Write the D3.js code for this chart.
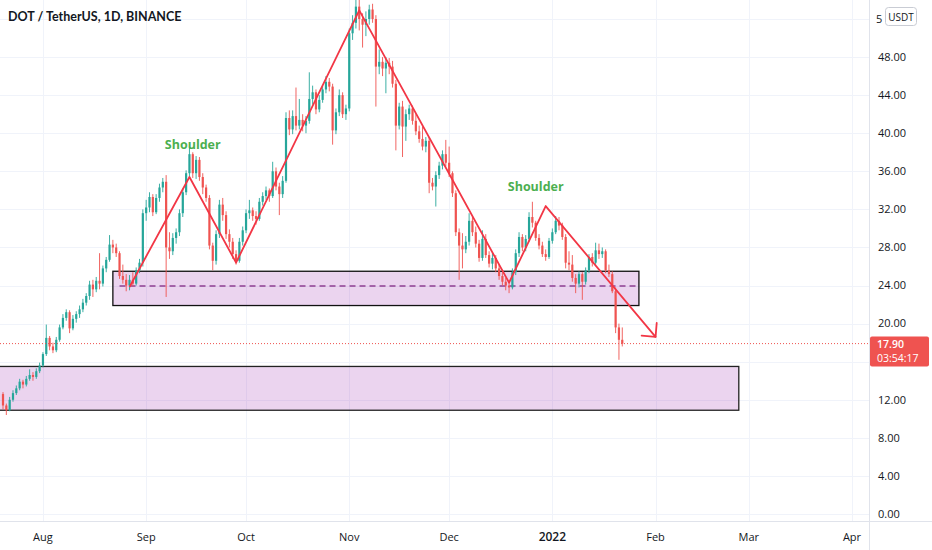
<!DOCTYPE html>
<html>
<head>
<meta charset="utf-8">
<script src="https://cdn.jsdelivr.net/npm/d3@7"></script>
<style>
  html, body { margin: 0; padding: 0; background: #fff; }
  #chart { width: 932px; height: 550px; }
  text { font-family: "Open Sans", "Noto Sans", sans-serif; }
</style>
</head>
<body>
<div id="chart"></div>
<script>
// DOT / USDT daily candles, first bar 2021-07-20
const firstDay = "2021-07-20";

const opens = [12.6,11.4,10.9,12.0,12.7,13.2,13.9,13.6,14.2,14.6,14.4,15.0,15.6,16.8,18.5,17.6,17.2,18.3,19.6,20.6,
  21.2,19.5,20.5,21.0,21.5,22.2,22.9,24.1,23.6,24.5,24.2,25.8,26.7,28.3,28.0,27.4,25.0,24.6,24.0,24.6,
  24.2,25.6,26.4,31.6,32.2,33.3,31.7,33.2,34.3,34.9,28.0,27.6,29.0,29.6,31.6,33.8,35.8,37.8,35.8,37.2,
  35.4,34.3,33.2,28.2,26.6,29.4,32.5,31.4,29.4,28.6,27.3,26.6,28.6,29.8,31.6,31.9,31.3,31.0,32.8,33.4,
  34.0,33.4,36.0,34.4,33.6,35.0,41.6,40.4,41.8,40.8,41.4,40.8,41.3,43.6,44.3,42.5,43.5,44.6,45.4,44.9,
  40.3,42.2,44.0,42.0,42.6,50.5,51.6,53.3,52.0,51.4,52.0,53.0,52.0,47.0,47.5,46.8,47.4,47.0,45.2,40.8,
  42.8,40.7,42.0,42.6,41.3,40.2,39.4,38.6,39.2,34.8,34.4,35.6,36.6,37.8,36.9,35.8,33.7,29.6,28.2,27.8,
  28.6,30.8,29.6,28.4,26.9,28.9,27.2,26.3,26.9,25.8,25.0,24.4,24.0,23.8,25.4,27.4,29.1,28.0,28.9,31.2,
  30.6,29.0,28.2,27.3,27.0,28.7,29.6,30.8,30.3,29.1,26.4,26.2,24.8,24.2,25.2,24.4,25.6,27.0,26.4,27.7,
  27.3,27.6,25.6,25.2,23.4,19.6,18.3];
const highs = [12.8,11.6,12.3,13.0,13.5,14.2,14.1,14.5,15.2,14.9,15.3,15.9,17.0,19.9,18.7,18.0,18.6,19.9,21.0,21.5,
  21.4,20.9,21.3,21.9,22.6,23.2,24.5,24.6,24.9,27.4,26.1,27.0,29.3,28.8,28.4,27.6,26.2,25.2,25.1,25.4,
  25.9,26.8,32.0,33.0,33.8,33.6,33.6,34.7,35.3,35.6,29.6,29.5,30.0,32.0,34.2,36.1,38.6,38.0,37.6,37.5,
  35.8,34.6,33.5,28.5,29.8,33.0,33.2,31.8,29.9,29.0,27.7,29.0,30.2,32.0,33.0,32.2,31.8,33.2,33.8,34.4,
  34.2,37.0,36.4,34.8,35.5,42.2,42.4,42.4,44.8,43.6,42.0,41.8,46.4,45.0,44.6,44.0,45.0,46.0,45.8,45.2,
  42.6,44.6,44.3,43.0,51.0,52.4,54.0,54.2,52.6,52.8,53.5,53.6,52.4,48.8,48.0,48.0,47.9,47.6,45.6,43.2,
  43.4,42.5,43.0,42.9,42.0,40.8,40.7,39.6,39.6,35.3,36.0,37.0,38.2,39.3,38.6,36.0,34.0,30.0,29.5,29.2,
  31.6,31.2,30.2,28.8,29.8,29.4,27.6,27.4,27.2,26.2,25.4,24.8,24.5,25.8,27.8,29.6,29.4,29.3,31.7,32.8,
  30.8,29.4,28.6,27.8,29.0,30.0,31.3,31.2,30.6,29.4,27.6,27.2,25.2,25.5,25.4,25.9,27.3,27.4,28.5,28.4,
  28.0,27.8,26.2,25.5,23.8,20.0,19.6];
const lows = [11.0,10.4,10.8,11.8,12.5,13.0,13.2,13.4,14.0,14.0,14.2,14.8,15.4,16.6,17.2,16.9,17.0,18.1,19.4,20.3,
  19.0,19.3,20.1,20.6,21.2,21.9,22.5,22.8,23.3,23.6,23.9,25.4,26.5,27.4,27.0,24.7,24.2,23.4,23.5,23.9,
  24.0,25.3,26.0,30.8,31.7,31.3,31.5,32.8,33.8,22.8,26.8,27.2,28.4,29.2,31.2,33.5,35.4,35.3,35.2,35.0,
  33.6,32.8,27.8,25.6,26.2,29.0,30.8,28.9,28.0,26.8,26.2,26.4,28.2,29.5,31.0,30.8,30.4,30.8,32.4,33.0,
  32.8,33.2,34.0,31.4,33.2,34.8,39.8,39.9,40.3,40.4,40.2,40.0,41.0,43.0,42.0,42.2,43.2,44.2,44.4,38.8,
  39.9,41.8,41.6,41.4,42.3,49.8,51.0,50.8,49.0,50.2,51.4,51.6,42.8,46.2,46.0,44.2,46.2,44.8,38.2,40.4,
  37.5,39.2,41.4,40.9,39.8,39.0,38.2,38.0,33.7,34.0,32.3,35.2,36.2,36.5,35.4,33.3,29.2,24.6,25.8,27.4,
  28.2,29.2,28.0,26.5,26.6,26.9,25.9,25.7,25.4,24.6,24.0,23.5,23.2,23.6,25.1,27.0,27.6,27.6,28.6,30.1,
  28.7,27.8,27.0,26.6,26.8,28.4,29.4,29.8,28.8,25.8,25.6,24.4,23.2,23.8,22.5,24.1,25.3,26.0,26.2,26.8,
  26.9,25.3,24.9,23.2,19.0,16.2,17.6];
const closes = [11.4,10.9,12.0,12.7,13.2,13.9,13.6,14.2,14.6,14.4,15.0,15.6,16.8,18.5,17.6,17.2,18.3,19.6,20.6,21.2,
  19.5,20.5,21.0,21.5,22.2,22.9,24.1,23.6,24.5,24.2,25.8,26.7,28.3,28.0,27.4,25.0,24.6,24.0,24.6,24.2,
  25.6,26.4,31.6,32.2,33.3,31.7,33.2,34.3,34.9,28.0,27.6,29.0,29.6,31.6,33.8,35.8,37.8,35.8,37.2,35.4,
  34.3,33.2,28.2,26.6,29.4,32.5,31.4,29.4,28.6,27.3,26.6,28.6,29.8,31.6,31.9,31.3,31.0,32.8,33.4,34.0,
  33.4,36.0,34.4,33.6,35.0,41.6,40.4,41.8,40.8,41.4,40.8,41.3,43.6,44.3,42.5,43.5,44.6,45.4,44.9,40.3,
  42.2,44.0,42.0,42.6,50.5,51.6,53.3,52.0,51.4,52.0,53.0,52.0,47.0,47.5,46.8,47.4,47.0,45.2,40.8,42.8,
  40.7,42.0,42.6,41.3,40.2,39.4,38.6,39.2,34.8,34.4,35.6,36.6,37.8,36.9,35.8,33.7,29.6,28.2,27.8,28.6,
  30.8,29.6,28.4,26.9,28.9,27.2,26.3,26.9,25.8,25.0,24.4,24.0,23.8,25.4,27.4,29.1,28.0,28.9,31.2,30.6,
  29.0,28.2,27.3,27.0,28.7,29.6,30.8,30.3,29.1,26.4,26.2,24.8,24.2,25.2,24.4,25.6,27.0,26.4,27.7,27.3,
  27.6,25.6,25.2,23.4,19.6,18.3,17.9];

const gridTicks = [0, 4, 8, 12, 16, 20, 24, 28, 32, 36, 40, 44, 48, 52];
// labels visible on the price scale (16 hides under the price tag, 52 under the badge)
const priceLabels = [0, 4, 8, 12, 20, 24, 28, 32, 36, 40, 44, 48];
const lastPrice = 17.90;
const countdown = "03:54:17";

// head & shoulders drawing (date, price)
const patternPoints = [
  ["2021-08-27", 23.85], ["2021-09-14", 35.4], ["2021-09-28", 26.4],
  ["2021-11-04", 52.9], ["2021-12-19", 24.3], ["2021-12-30", 32.35], ["2022-02-01", 18.6]
];
const shoulderLabels = [["2021-09-15", 38.3, "Shoulder"], ["2021-12-27", 33.9, "Shoulder"]];
const supportZone = {from: "2021-08-22", to: "2022-01-27", low: 21.9, high: 25.5, mid: 23.95, dashFrom: "2021-08-24", dashTo: "2022-01-26"};
const demandZone = {from: "2021-07-01", to: "2022-02-26", low: 10.9, high: 15.5};

const W = 932, H = 550, plotRight = 869.5, plotBottom = 521.5;
const parse = d3.timeParse("%Y-%m-%d");

const bars = closes.map((c, i) => ({
  date: d3.timeDay.offset(parse(firstDay), i),
  o: opens[i], h: highs[i], l: lows[i], c: c
}));

const svg = d3.select("#chart").append("svg")
  .attr("width", W).attr("height", H)
  .attr("viewBox", `0 0 ${W} ${H}`);

const x = d3.scaleTime()
  .domain([parse(firstDay), parse("2022-04-01")])
  .range([3, 852]);
const y = d3.scaleLinear().domain([0, 52]).range([514, 19]);

const months = d3.timeMonth.range(parse("2021-08-01"), parse("2022-04-02"));

const plot = svg.append("g");
plot.append("clipPath").attr("id", "clip")
  .append("rect").attr("x", 0).attr("y", 0).attr("width", plotRight).attr("height", plotBottom);
const inner = plot.append("g").attr("clip-path", "url(#clip)");

// grid
inner.selectAll(".hgrid").data(gridTicks).enter().append("line")
  .attr("x1", 0).attr("x2", plotRight)
  .attr("y1", d => Math.round(y(d)) + 0.5).attr("y2", d => Math.round(y(d)) + 0.5)
  .attr("stroke", "#f0f3fa");
inner.selectAll(".vgrid").data(months).enter().append("line")
  .attr("y1", 0).attr("y2", plotBottom)
  .attr("x1", d => Math.round(x(d)) + 0.5).attr("x2", d => Math.round(x(d)) + 0.5)
  .attr("stroke", "#f0f3fa");

// zones
const zoneFill = "rgba(156, 39, 176, 0.2)";
inner.append("rect")
  .attr("x", x(parse(demandZone.from))).attr("y", y(demandZone.high))
  .attr("width", x(parse(demandZone.to)) - x(parse(demandZone.from)))
  .attr("height", y(demandZone.low) - y(demandZone.high))
  .attr("fill", zoneFill).attr("stroke", "#222").attr("stroke-width", 1.3);
inner.append("rect")
  .attr("x", x(parse(supportZone.from))).attr("y", y(supportZone.high))
  .attr("width", x(parse(supportZone.to)) - x(parse(supportZone.from)))
  .attr("height", y(supportZone.low) - y(supportZone.high))
  .attr("fill", zoneFill).attr("stroke", "#111").attr("stroke-width", 1.3);
inner.append("line")
  .attr("x1", x(parse(supportZone.dashFrom))).attr("x2", x(parse(supportZone.dashTo)))
  .attr("y1", y(supportZone.mid)).attr("y2", y(supportZone.mid))
  .attr("stroke", "#8e3f92").attr("stroke-width", 1.3).attr("stroke-dasharray", "6,4");

// candles
const up = "#26a69a", down = "#ef5350";
const candle = inner.selectAll(".bar").data(bars).enter().append("g").attr("class", "bar");
candle.append("line")
  .attr("x1", d => x(d.date)).attr("x2", d => x(d.date))
  .attr("y1", d => y(d.h)).attr("y2", d => y(d.l))
  .attr("stroke", d => d.c >= d.o ? up : down).attr("stroke-width", 0.9);
candle.append("rect")
  .attr("x", d => x(d.date) - 1.1)
  .attr("width", 2.2)
  .attr("y", d => y(Math.max(d.o, d.c)))
  .attr("height", d => Math.max(0.8, Math.abs(y(d.o) - y(d.c))))
  .attr("fill", d => d.c >= d.o ? up : down);

// last price line
inner.append("line")
  .attr("x1", 0).attr("x2", plotRight)
  .attr("y1", y(lastPrice)).attr("y2", y(lastPrice))
  .attr("stroke", down).attr("stroke-width", 1).attr("stroke-dasharray", "1,2");

// pattern lines
const red = "#f23645";
const pts = patternPoints.map(p => [x(parse(p[0])), y(p[1])]);
inner.append("path")
  .attr("d", d3.line()(pts))
  .attr("fill", "none").attr("stroke", red).attr("stroke-width", 1.8)
  .attr("stroke-linejoin", "round");
// arrow head at the last point
const tip = pts[pts.length - 1], prev = pts[pts.length - 2];
const ang = Math.atan2(tip[1] - prev[1], tip[0] - prev[0]);
const headLen = 14;
[Math.PI - 0.78, Math.PI + 0.78].forEach(a => {
  inner.append("line")
    .attr("x1", tip[0]).attr("y1", tip[1])
    .attr("x2", tip[0] + headLen * Math.cos(ang + a))
    .attr("y2", tip[1] + headLen * Math.sin(ang + a))
    .attr("stroke", red).attr("stroke-width", 1.8).attr("stroke-linecap", "round");
});

inner.selectAll(".shoulder").data(shoulderLabels).enter().append("text")
  .attr("x", d => x(parse(d[0]))).attr("y", d => y(d[1]))
  .attr("text-anchor", "middle")
  .attr("font-size", 12.5).attr("font-weight", "bold")
  .attr("fill", "#4caf50")
  .text(d => d[2]);

// title
svg.append("text")
  .attr("x", 8).attr("y", 21)
  .style("font-family", "Lato, 'Open Sans', sans-serif")
  .attr("font-size", 12.5).attr("font-weight", "bold").attr("fill", "#131722")
  .text("DOT / TetherUS, 1D, BINANCE");

// axes borders
svg.append("line").attr("x1", plotRight).attr("x2", plotRight).attr("y1", 0).attr("y2", H)
  .attr("stroke", "#e0e3eb");
svg.append("line").attr("x1", 0).attr("x2", W).attr("y1", plotBottom).attr("y2", plotBottom)
  .attr("stroke", "#e0e3eb");

// price axis
const yAxis = svg.append("g").attr("class", "axis axis-y");
yAxis.selectAll("text").data(priceLabels).enter().append("text")
  .attr("x", 878).attr("y", d => y(d))
  .attr("dy", "0.35em")
  .attr("font-size", 11).attr("fill", "#131722")
  .text(d => d3.format(".2f")(d));
// first digit of the top label peeking out from behind the badge
yAxis.append("text")
  .attr("x", 876).attr("y", y(52)).attr("dy", "0.35em")
  .attr("font-size", 11).attr("fill", "#131722")
  .text("5");

// USDT badge
const badge = svg.append("g");
badge.append("rect").attr("x", 885.5).attr("y", 7.5).attr("width", 31).attr("height", 18)
  .attr("rx", 3).attr("fill", "#fff").attr("stroke", "#c9ccd4");
badge.append("text").attr("x", 901).attr("y", 17).attr("dy", "0.35em")
  .attr("text-anchor", "middle").attr("font-size", 10).attr("fill", "#131722").text("USDT");

// last price tag
const tag = svg.append("g");
tag.append("rect").attr("x", 870).attr("y", y(lastPrice) - 7).attr("width", 59).attr("height", 30)
  .attr("rx", 2).attr("fill", down);
tag.append("text").attr("x", 877).attr("y", y(lastPrice) + 0.5).attr("dy", "0.35em")
  .attr("font-size", 10.5).attr("font-weight", 600).attr("fill", "#fff").text(d3.format(".2f")(lastPrice));
tag.append("text").attr("x", 877).attr("y", y(lastPrice) + 14.5).attr("dy", "0.35em")
  .attr("font-size", 10.5).attr("fill", "#fff").text(countdown);

// time axis
const fmt = d => d.getMonth() === 0 ? d3.timeFormat("%Y")(d) : d3.timeFormat("%b")(d);
svg.append("g").attr("class", "axis axis-x")
  .selectAll("text").data(months).enter().append("text")
  .attr("x", d => x(d)).attr("y", 537).attr("dy", "0.35em")
  .attr("text-anchor", "middle")
  .attr("font-size", d => d.getMonth() === 0 ? 12 : 11)
  .attr("font-weight", d => d.getMonth() === 0 ? 600 : 400)
  .attr("fill", "#131722")
  .text(fmt);
</script>
</body>
</html>
